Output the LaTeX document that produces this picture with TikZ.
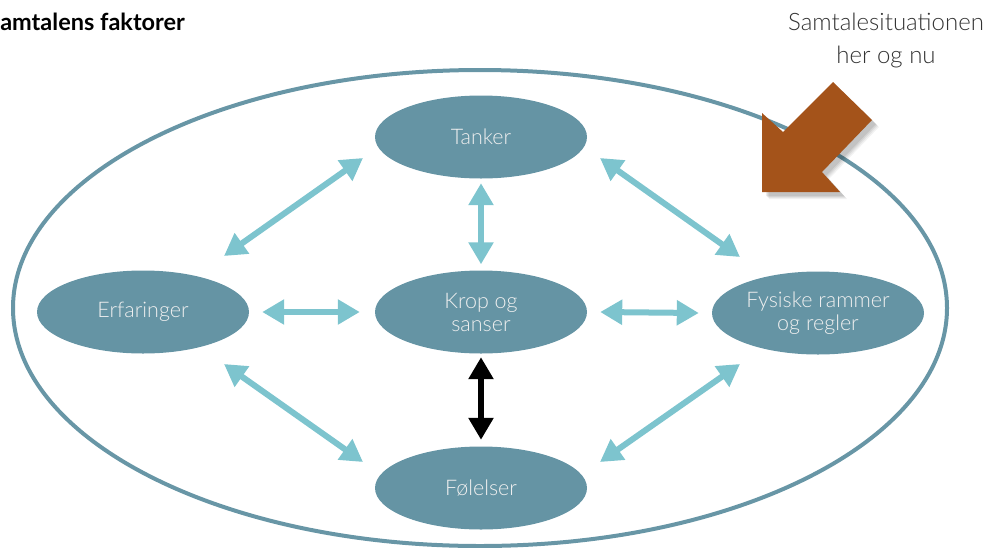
\documentclass[tikz,border=0pt]{standalone}
\usepackage{fontspec}
\setmainfont{Lato}
\newfontfamily\lightfont{Lato Light}
\usetikzlibrary{arrows.meta,shapes.geometric}
\definecolor{nodeblue}{HTML}{6594A4}
\definecolor{ringblue}{HTML}{6896A6}
\definecolor{linkcyan}{HTML}{7DC4CE}
\definecolor{rustbrown}{HTML}{A4531A}
\definecolor{labelgray}{HTML}{333333}
\tikzset{
  factor/.style={ellipse, fill=nodeblue, minimum width=212pt, minimum height=83pt,
    inner sep=0pt, text=white!94!black, align=center,
    font=\lightfont\fontsize{21.5}{23}\selectfont},
  link/.style={draw=linkcyan, line width=6pt,
    {Triangle[length=22pt,width=24pt]}-{Triangle[length=22pt,width=24pt]}},
  strong link/.style={link, draw=black},
}
\begin{document}
\begin{tikzpicture}[x=1pt,y=-1pt]
\useasboundingbox (0,0) rectangle (988,547);
% surrounding situation
\draw[ringblue, line width=4pt] (480,308) ellipse [x radius=467, y radius=238];
% title and situation label
\node[anchor=base east, font=\bfseries\fontsize{23.5}{28}\selectfont, inner sep=0pt]
  (title) at (185,30) {Samtalens faktorer};
\node[anchor=north, align=center, text=labelgray, inner sep=0pt,
  font=\lightfont\fontsize{24}{33}\selectfont] (situation) at (886,13)
  {Samtalesituationen\\her og nu};
% factors
\node[factor] (tanker) at (481,137) {Tanker};
\node[factor] (krop)   at (481,312) {Krop og\\sanser};
\node[factor] (erf)    at (143,312) {Erfaringer};
\node[factor] (fys)    at (818,313) {Fysiske rammer\\og regler};
\node[factor] (fol)    at (481,488) {Følelser};
% connector ends
\coordinate (e1) at (224,256); \coordinate (t1) at (363,158);
\coordinate (t2) at (600,158); \coordinate (f1) at (740,257);
\coordinate (e2) at (224,364); \coordinate (l1) at (363,462);
\coordinate (l2) at (600,462); \coordinate (f2) at (740,364);
% connectors
\draw[link] (e1) -- (t1);
\draw[link] (t2) -- (f1);
\draw[link] (e2) -- (l1);
\draw[link] (l2) -- (f2);
\draw[link] ([yshift=-4.5pt]tanker.south) -- ([yshift=6pt]krop.north);
\draw[link] ([xshift=13pt]erf.east) -- ([xshift=-15pt]krop.west);
\draw[link] ([xshift=13pt]krop.east) -- ([xshift=-13pt]fys.west);
\draw[strong link] ([yshift=-3.5pt]krop.south) -- ([yshift=6.5pt]fol.north);
% incoming block arrow with a soft shadow
\foreach \d/\o in {7/0.05,6/0.06,5/0.07,4/0.08} {
  \fill[black, opacity=\o, shift={(\d,\d)}]
    (762,113) -- (783,132) -- (833,82) -- (872,120) -- (822,172) -- (840,192) -- (762,192) -- cycle;
}
\fill[rustbrown]
  (762,113) -- (783,132) -- (833,82) -- (872,120) -- (822,172) -- (840,192) -- (762,192) -- cycle;
\end{tikzpicture}
\end{document}
